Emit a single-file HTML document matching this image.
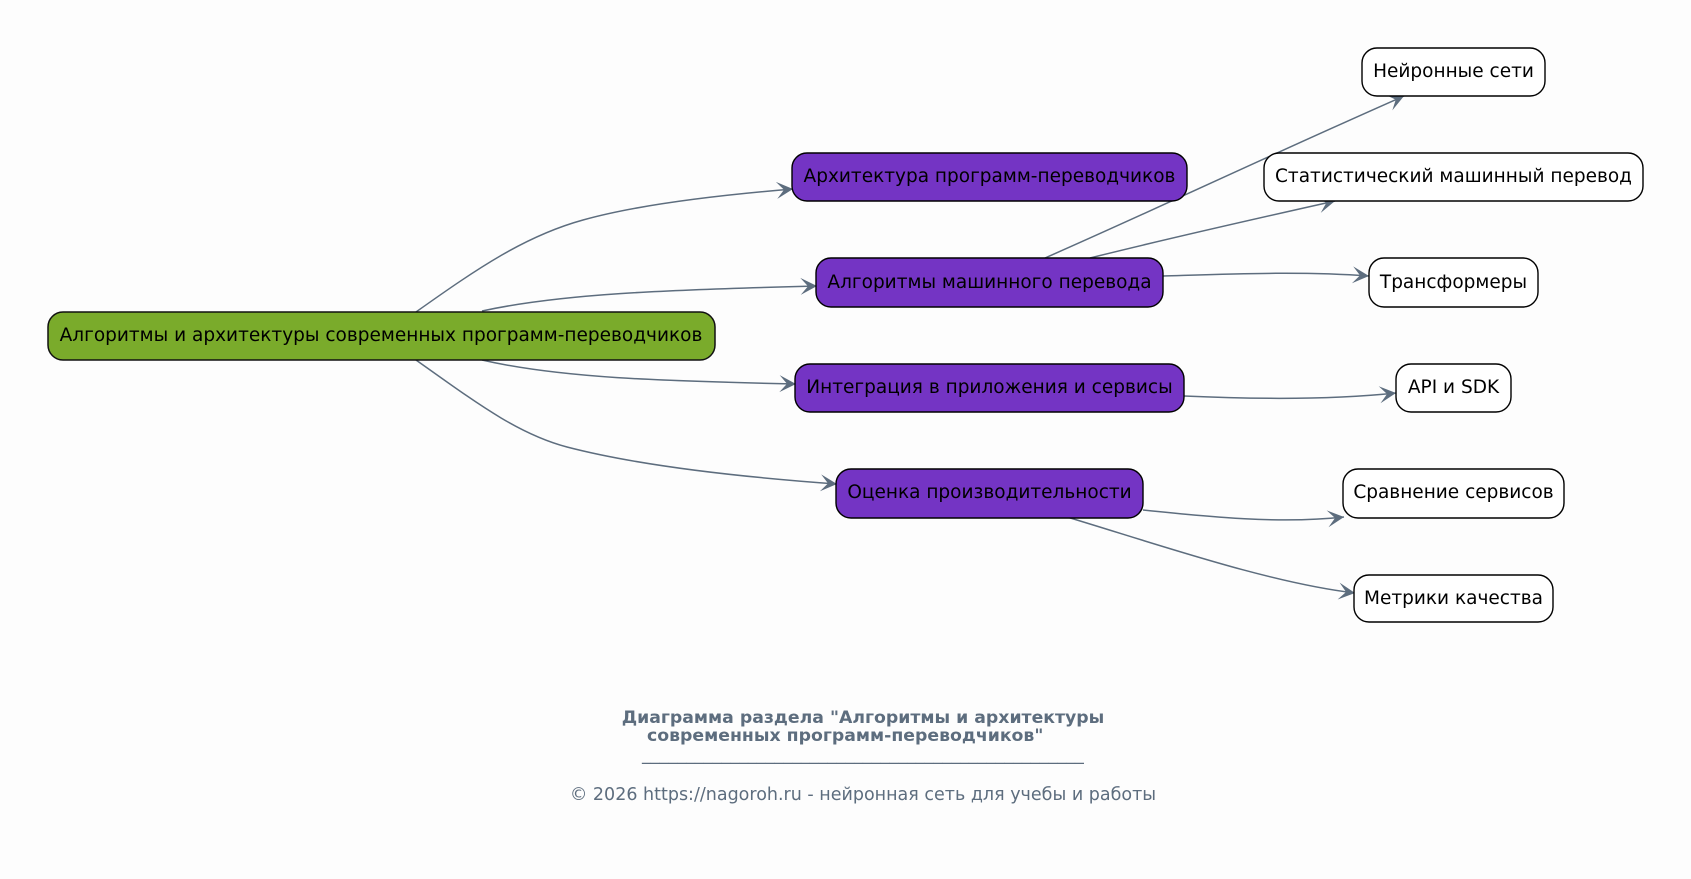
<!DOCTYPE html>
<html><head><meta charset="utf-8"><style>
html,body{margin:0;padding:0;background:#fdfdfd;width:1691px;height:879px;overflow:hidden}
svg{display:block}
text{font-family:"DejaVu Sans",sans-serif}
.n{font-size:18.5px;fill:#000;text-anchor:middle}
.e{fill:none;stroke:#5d6d7e;stroke-width:1.5}
.a{fill:#5d6d7e}
</style></head><body>
<svg width="1691" height="879" viewBox="0 0 1691 879" xmlns="http://www.w3.org/2000/svg">
<rect width="1691" height="879" fill="#fdfdfd"/>
<defs><marker id="v" markerUnits="userSpaceOnUse" markerWidth="20" markerHeight="20" refX="17" refY="10" orient="auto"><path class="a" d="M0.5,1.5 L17,10 L0.5,18.5 L8,10 Z"/></marker></defs>
<path class="e" marker-end="url(#v)" d="M416 312 C 478 268,525 236,583 220 C 640 204,720 195,793 189"/>
<path class="e" marker-end="url(#v)" d="M482 311 C 560 294,660 290,817 286"/>
<path class="e" marker-end="url(#v)" d="M482 360 C 560 378,660 381,796 384"/>
<path class="e" marker-end="url(#v)" d="M416 360 C 478 404,518 434,567 447 C 640 466,740 477,837 484"/>
<path class="e" marker-end="url(#v)" d="M1045 258 C 1150 212,1270 155,1404 96"/>
<path class="e" marker-end="url(#v)" d="M1090 258 C 1170 238,1250 220,1335 201"/>
<path class="e" marker-end="url(#v)" d="M1163 276 C 1230 274,1300 271,1369 276"/>
<path class="e" marker-end="url(#v)" d="M1184 396 C 1250 399,1330 400,1396 393"/>
<path class="e" marker-end="url(#v)" d="M1143 510 C 1210 517,1280 524,1344 517"/>
<path class="e" marker-end="url(#v)" d="M1067 517 C 1160 545,1270 583,1355 593"/>
<rect x="48" y="312" width="667" height="48" rx="15" fill="#7aab2b" stroke="#111" stroke-width="1.5"/>
<g fill="#7434c4" stroke="#000" stroke-width="1.4">
<rect x="792" y="153" width="395" height="48" rx="15"/>
<rect x="816" y="258" width="347" height="49" rx="15"/>
<rect x="795" y="364" width="389" height="48" rx="15"/>
<rect x="836" y="469" width="307" height="49" rx="15"/>
</g>
<g fill="#fff" stroke="#000" stroke-width="1.4">
<rect x="1362" y="48" width="183" height="48" rx="15"/>
<rect x="1264" y="153" width="379" height="48" rx="15"/>
<rect x="1369" y="258" width="169" height="49" rx="15"/>
<rect x="1396" y="364" width="115" height="48" rx="15"/>
<rect x="1343" y="469" width="221" height="49" rx="15"/>
<rect x="1354" y="575" width="199" height="47" rx="15"/>
</g>
<text class="n" x="381" y="341">Алгоритмы и архитектуры современных программ-переводчиков</text>
<text class="n" x="989.5" y="182">Архитектура программ-переводчиков</text>
<text class="n" x="989.5" y="288">Алгоритмы машинного перевода</text>
<text class="n" x="989.5" y="393">Интеграция в приложения и сервисы</text>
<text class="n" x="989.5" y="498">Оценка производительности</text>
<text class="n" x="1453.5" y="77">Нейронные сети</text>
<text class="n" x="1453.5" y="182">Статистический машинный перевод</text>
<text class="n" x="1453.5" y="288">Трансформеры</text>
<text class="n" x="1453.5" y="393">API и SDK</text>
<text class="n" x="1453.5" y="498">Сравнение сервисов</text>
<text class="n" x="1453.5" y="604">Метрики качества</text>
<text x="863" y="723" font-size="17.3" font-weight="bold" fill="#5d6d7e" text-anchor="middle">Диаграмма раздела "Алгоритмы и архитектуры</text>
<text x="647" y="741" font-size="17.3" font-weight="bold" fill="#5d6d7e">современных программ-переводчиков"</text>
<text x="642" y="760" font-size="17.68" fill="#5d6d7e">__________________________________________________</text>
<text x="863" y="800" font-size="17.5" fill="#5d6d7e" text-anchor="middle">© 2026 https://nagoroh.ru - нейронная сеть для учебы и работы</text>
</svg>
</body></html>
